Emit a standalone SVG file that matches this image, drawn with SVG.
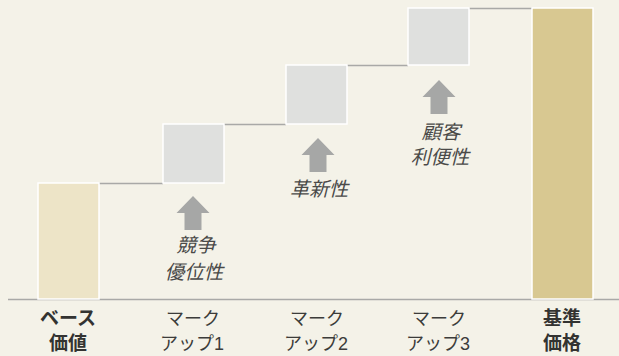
<svg xmlns="http://www.w3.org/2000/svg" width="619" height="356" viewBox="0 0 619 356">
<style>
.bar{stroke:#ffffff;stroke-width:1.5}
.box{fill:#DFE0DE;stroke:#ffffff;stroke-width:1.5}
.conn{stroke:#A9A9A7;stroke-width:1.5;fill:none}
.arrow{fill:#A6A7A6}
.lbl{font-family:"Liberation Sans","Noto Sans CJK JP",sans-serif;font-size:19.5px;fill:#4a4a48;font-style:italic;text-anchor:middle}
.ax{font-family:"Liberation Sans","Noto Sans CJK JP",sans-serif;font-size:18px;fill:#3c3c3a;text-anchor:middle}
.axb{font-weight:bold;fill:#333331;font-size:19px}
</style>
<defs>
<path id="up" d="M0,0 L16.5,17 L8.5,17 L8.5,34 L-8.5,34 L-8.5,17 L-16.5,17 Z"/>
</defs>
<rect width="619" height="356" fill="#F4F2E8"/>
<g id="connectors">
<line class="conn" x1="8" y1="299.5" x2="619" y2="299.5"/>
<line class="conn" x1="99" y1="183.5" x2="163" y2="183.5"/>
<line class="conn" x1="224" y1="124.5" x2="286" y2="124.5"/>
<line class="conn" x1="347" y1="65.5" x2="408" y2="65.5"/>
<line class="conn" x1="469" y1="8.5" x2="532" y2="8.5"/>
</g>
<g id="base">
<rect class="bar" x="38" y="183" width="61" height="116" fill="#EDE4C7"/>
<text class="ax axb" x="68" y="325">ベース</text>
<text class="ax axb" x="68" y="350">価値</text>
</g>
<g id="markup1">
<rect class="box" x="163" y="124" width="61" height="59"/>
<use href="#up" class="arrow" x="193" y="196"/>
<text class="lbl" x="196" y="252">競争</text>
<text class="lbl" x="194" y="279">優位性</text>
<text class="ax" x="193" y="325">マーク</text>
<text class="ax" x="192" y="350">アップ1</text>
</g>
<g id="markup2">
<rect class="box" x="286" y="65" width="61" height="59"/>
<use href="#up" class="arrow" x="318" y="138"/>
<text class="lbl" x="319" y="196">革新性</text>
<text class="ax" x="317" y="325">マーク</text>
<text class="ax" x="316" y="350">アップ2</text>
</g>
<g id="markup3">
<rect class="box" x="408" y="8" width="61" height="57"/>
<use href="#up" class="arrow" x="439" y="80"/>
<text class="lbl" x="441" y="139">顧客</text>
<text class="lbl" x="440" y="164">利便性</text>
<text class="ax" x="439" y="325">マーク</text>
<text class="ax" x="438" y="350">アップ3</text>
</g>
<g id="target">
<rect class="bar" x="532" y="8" width="61" height="291" fill="#D8C891"/>
<text class="ax axb" x="562" y="325">基準</text>
<text class="ax axb" x="562" y="350">価格</text>
</g>
</svg>
